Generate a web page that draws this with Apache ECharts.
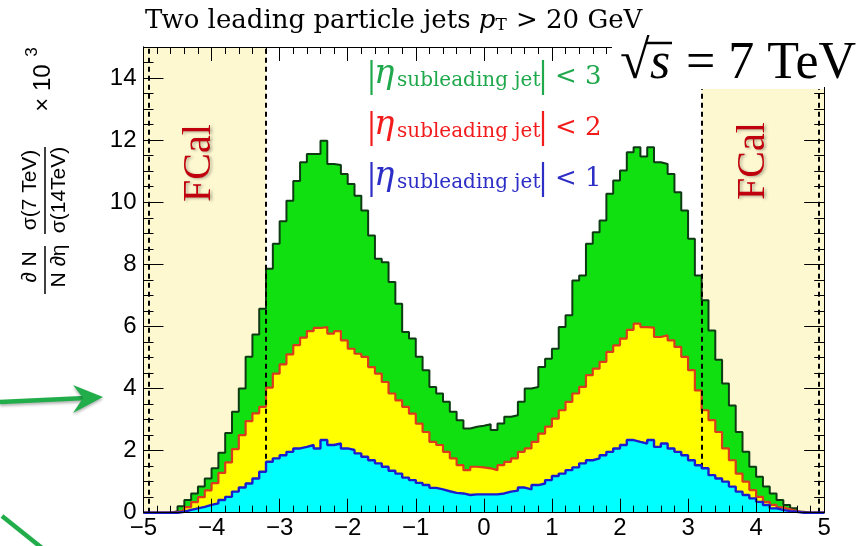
<!DOCTYPE html>
<html>
<head>
<meta charset="utf-8">
<script src="https://cdn.jsdelivr.net/npm/echarts@6/dist/echarts.min.js"></script>
<style>
  html, body { margin: 0; padding: 0; background: #ffffff; }
  #chart { width: 858px; height: 546px; }
</style>
</head>
<body>
<div id="chart"></div>
<script>
// Pseudorapidity bin edges (0.1 wide, -5 .. 5)
const binEdges = [
  -5.0, -4.9, -4.8, -4.7, -4.6, -4.5, -4.4, -4.3, -4.2, -4.1,
  -4.0, -3.9, -3.8, -3.7, -3.6, -3.5, -3.4, -3.3, -3.2, -3.1,
  -3.0, -2.9, -2.8, -2.7, -2.6, -2.5, -2.4, -2.3, -2.2, -2.1,
  -2.0, -1.9, -1.8, -1.7, -1.6, -1.5, -1.4, -1.3, -1.2, -1.1,
  -1.0, -0.9, -0.8, -0.7, -0.6, -0.5, -0.4, -0.3, -0.2, -0.1,
   0.0,  0.1,  0.2,  0.3,  0.4,  0.5,  0.6,  0.7,  0.8,  0.9,
   1.0,  1.1,  1.2,  1.3,  1.4,  1.5,  1.6,  1.7,  1.8,  1.9,
   2.0,  2.1,  2.2,  2.3,  2.4,  2.5,  2.6,  2.7,  2.8,  2.9,
   3.0,  3.1,  3.2,  3.3,  3.4,  3.5,  3.6,  3.7,  3.8,  3.9,
   4.0,  4.1,  4.2,  4.3,  4.4,  4.5,  4.6,  4.7,  4.8,  4.9,
   5.0
];

// Leading-jet eta distribution (x 10^3), one value per bin
const jetsEta3 = [
  0, 0, 0, 0, 0.05, 0.21, 0.41, 0.62, 0.84, 1.10,
  1.43, 1.93, 2.57, 3.25, 4.00, 5.02, 5.74, 6.57, 7.86, 8.66,
  9.39, 10.05, 10.68, 11.29, 11.55, 11.55, 11.98, 11.23, 11.20, 10.91,
  10.59, 10.21, 9.73, 8.93, 8.18, 8.07, 7.43, 6.73, 5.82, 5.61,
  5.02, 4.59, 4.05, 3.84, 3.57, 3.25, 2.98, 2.71, 2.77, 2.80,
  2.85, 2.66, 2.87, 3.09, 3.14, 3.57, 4.00, 4.05, 4.69, 4.96,
  5.28, 5.98, 6.36, 7.48, 7.64, 8.66, 9.03, 9.41, 10.27, 10.70,
  11.02, 11.61, 11.77, 11.47, 11.77, 11.29, 11.23, 10.91, 10.32, 9.73,
  8.82, 7.64, 6.84, 5.87, 4.93, 4.16, 3.45, 2.60, 1.96, 1.48,
  1.16, 0.84, 0.62, 0.41, 0.25, 0.14, 0.03, 0, 0, 0
];
const jetsEta2 = [
  0, 0, 0, 0, 0.02, 0.08, 0.18, 0.34, 0.50, 0.72,
  0.95, 1.28, 1.62, 2.05, 2.50, 2.95, 3.20, 3.41, 4.03, 4.48,
  4.78, 5.10, 5.40, 5.64, 5.85, 5.95, 5.98, 5.77, 5.85, 5.55,
  5.28, 5.12, 5.02, 4.69, 4.48, 4.21, 3.84, 3.62, 3.41, 3.19,
  2.87, 2.60, 2.28, 2.18, 1.96, 1.75, 1.53, 1.37, 1.48, 1.46,
  1.43, 1.37, 1.53, 1.64, 1.75, 1.96, 2.07, 2.28, 2.55, 2.77,
  3.03, 3.30, 3.57, 3.84, 4.05, 4.43, 4.64, 4.86, 5.18, 5.39,
  5.61, 5.89, 6.09, 5.98, 5.96, 5.66, 5.71, 5.55, 5.34, 5.02,
  4.59, 3.94, 3.30, 2.98, 2.60, 2.07, 1.69, 1.26, 1.00, 0.73,
  0.51, 0.35, 0.25, 0.17, 0.11, 0.05, 0.01, 0, 0, 0
];
const jetsEta1 = [
  0, 0, 0, 0, 0, 0.03, 0.09, 0.14, 0.19, 0.25,
  0.30, 0.41, 0.51, 0.68, 0.81, 0.94, 1.10, 1.32, 1.64, 1.75,
  1.85, 1.96, 2.07, 2.12, 2.18, 2.07, 2.34, 2.18, 2.23, 2.07,
  2.02, 1.91, 1.80, 1.69, 1.59, 1.48, 1.35, 1.26, 1.13, 1.05,
  0.96, 0.89, 0.80, 0.75, 0.69, 0.64, 0.62, 0.57, 0.59, 0.59,
  0.59, 0.59, 0.62, 0.68, 0.71, 0.81, 0.75, 0.89, 0.94, 1.05,
  1.18, 1.26, 1.37, 1.46, 1.59, 1.69, 1.75, 1.85, 1.96, 2.07,
  2.18, 2.34, 2.28, 2.23, 2.34, 2.12, 2.23, 2.07, 1.96, 1.85,
  1.69, 1.53, 1.43, 1.21, 1.10, 1.00, 0.84, 0.68, 0.57, 0.46,
  0.35, 0.25, 0.14, 0.09, 0.05, 0.03, 0, 0, 0, 0
];

// Forward calorimeter region: boundary at |eta| = 3.2, guide lines near the edges
const fcalInner = [-3.2, 3.2];
const fcalOuter = [-4.92, 4.92];
const fcalTopRight = 13.65;   // right band stops under the energy label
const yMax = 15;

// Histogram outline: left edge of each bin, closed at the last edge
function histPoints(values) {
  const pts = values.map((v, i) => [binEdges[i], v]);
  pts.push([binEdges[binEdges.length - 1], 0]);
  return pts;
}

const minus = v => (v < 0 ? '\u2212' + (-v) : String(v));
const serif = 'DejaVu Serif';
const sans = 'Liberation Sans';

const chart = echarts.init(document.getElementById('chart'), null, { renderer: 'canvas' });

const yBase = {
  type: 'value', min: 0, max: yMax, z: 10,
  splitLine: { show: false },
  axisLine: { show: true, onZero: false, lineStyle: { color: '#000', width: 1 } },
  axisLabel: { show: false }
};
const xBase = {
  type: 'value', min: -5, max: 5, interval: 1, z: 10,
  splitLine: { show: false },
  axisLine: { show: true, onZero: false, lineStyle: { color: '#000', width: 1 } },
  axisTick: { show: true, inside: true, length: 14, lineStyle: { color: '#000', width: 1 } },
  minorTick: { show: true, splitNumber: 5, length: 7, lineStyle: { color: '#000', width: 1 } }
};

function legendRow(color, base, label) {
  return [
    { type: 'line', z: 50, shape: { x1: 371.5, y1: base - 26, x2: 371.5, y2: base + 9 },
      style: { stroke: color, lineWidth: 2.2 } },
    { type: 'text', z: 50, x: 374, y: base - 12,
      style: { text: '\u03b7', fontFamily: serif, fontStyle: 'italic', fontSize: 34, fill: color,
               align: 'left', verticalAlign: 'middle', textAlign: 'left', textVerticalAlign: 'middle' } },
    { type: 'text', z: 50, x: 397, y: base - 5.5,
      style: { text: 'subleading jet', fontFamily: serif, fontSize: 20, fill: color,
               align: 'left', verticalAlign: 'middle', textAlign: 'left', textVerticalAlign: 'middle' } },
    { type: 'line', z: 50, shape: { x1: 543, y1: base - 26, x2: 543, y2: base + 9 },
      style: { stroke: color, lineWidth: 2.2 } },
    { type: 'text', z: 50, x: 555, y: base - 9,
      style: { text: '< ' + label, fontFamily: serif, fontSize: 26, fill: color,
               align: 'left', verticalAlign: 'middle', textAlign: 'left', textVerticalAlign: 'middle' } }
  ];
}

function rotText(text, x, y, size, extra) {
  return Object.assign({
    type: 'text', z: 50, x: x, y: y, rotation: Math.PI / 2,
    style: { text: text, fontFamily: sans, fontSize: size, fill: '#000',
             align: 'center', verticalAlign: 'middle', textAlign: 'center', textVerticalAlign: 'middle' }
  }, extra || {});
}

const green = '#1fa84c';

const option = {
  animation: false,
  backgroundColor: '#ffffff',
  grid: { left: 143.5, right: 33.8, top: 47, bottom: 33.3, containLabel: false, outerBoundsMode: 'none' },
  xAxis: [
    Object.assign({}, xBase, {
      position: 'bottom',
      axisLabel: { show: true, formatter: minus, fontFamily: sans, fontSize: 24, color: '#000', margin: 4 }
    }),
    Object.assign({}, xBase, { position: 'top', axisLabel: { show: false } })
  ],
  yAxis: [
    Object.assign({}, yBase, {
      position: 'left', interval: 2,
      axisTick: { show: true, inside: true, length: 20, lineStyle: { color: '#000' } },
      axisLabel: { show: true, fontFamily: sans, fontSize: 24, color: '#000', margin: 7,
                   formatter: v => (v > 14 ? '' : String(v)) }
    }),
    Object.assign({}, yBase, {
      position: 'left', interval: 0.5,
      axisTick: { show: true, inside: true, length: 10, lineStyle: { color: '#000' } }
    }),
    Object.assign({}, yBase, {
      position: 'right', interval: 2,
      axisTick: { show: true, inside: true, length: 20, lineStyle: { color: '#000' } }
    }),
    Object.assign({}, yBase, {
      position: 'right', interval: 0.5,
      axisTick: { show: true, inside: true, length: 10, lineStyle: { color: '#000' } }
    })
  ],
  series: [
    {
      name: 'FCal', type: 'line', data: [], z: 1, silent: true,
      markArea: {
        silent: true,
        itemStyle: { color: '#fdf8d0' },
        data: [
          [{ coord: [-5, 0] }, { coord: [fcalInner[0], yMax] }],
          [{ coord: [fcalInner[1], 0] }, { coord: [5, fcalTopRight] }]
        ]
      }
    },
    {
      name: '|eta| < 3', type: 'line', step: 'end', symbol: 'none', z: 3,
      data: histPoints(jetsEta3),
      lineStyle: { color: '#0e3a14', width: 2 },
      areaStyle: { color: '#10e010', opacity: 1 }
    },
    {
      name: '|eta| < 2', type: 'line', step: 'end', symbol: 'none', z: 4,
      data: histPoints(jetsEta2),
      lineStyle: { color: '#dc3a1c', width: 2.2 },
      areaStyle: { color: '#ffff00', opacity: 1 }
    },
    {
      name: '|eta| < 1', type: 'line', step: 'end', symbol: 'none', z: 5,
      data: histPoints(jetsEta1),
      lineStyle: { color: '#1b1bd0', width: 2.4 },
      areaStyle: { color: '#00ffff', opacity: 1 }
    },
    {
      name: 'FCal edges', type: 'line', data: [], z: 8, silent: true,
      markLine: {
        silent: true, symbol: 'none',
        label: { show: false },
        lineStyle: { color: '#000', width: 2, type: [5, 4] },
        data: [
          [{ coord: [fcalOuter[0], 0] }, { coord: [fcalOuter[0], yMax] }],
          [{ coord: [fcalInner[0], 0] }, { coord: [fcalInner[0], yMax] }],
          [{ coord: [fcalInner[1], 0] }, { coord: [fcalInner[1], fcalTopRight] }],
          [{ coord: [fcalOuter[1], 0] }, { coord: [fcalOuter[1], fcalTopRight] }]
        ]
      }
    }
  ],
  graphic: [
    // Title
    { type: 'text', z: 50, x: 145, y: 21,
      style: { text: 'Two leading particle jets {p|p}{t|T} > 20 GeV', fontFamily: serif, fontSize: 26, fill: '#000',
               align: 'left', verticalAlign: 'middle', textAlign: 'left', textVerticalAlign: 'middle',
               rich: {
                 p: { fontFamily: serif, fontSize: 26, fontStyle: 'italic', fill: '#000' },
                 t: { fontFamily: serif, fontSize: 17, fill: '#000', verticalAlign: 'bottom', padding: [0, 1, 0, 0] }
               } } },
    // Energy label on a white backing
    { type: 'rect', z: 40, shape: { x: 612, y: 33, width: 246, height: 54 }, style: { fill: '#ffffff' } },
    { type: 'text', z: 50, x: 620, y: 64,
      style: { text: '\u221a', fontFamily: 'Liberation Serif', fontSize: 54, fill: '#000',
               align: 'left', verticalAlign: 'middle', textAlign: 'left', textVerticalAlign: 'middle' } },
    { type: 'line', z: 50, shape: { x1: 646, y1: 43, x2: 672, y2: 43 }, style: { stroke: '#000', lineWidth: 2.5 } },
    { type: 'text', z: 50, x: 650, y: 64,
      style: { text: 's', fontFamily: 'Liberation Serif', fontStyle: 'italic', fontSize: 52, fill: '#000',
               align: 'left', verticalAlign: 'middle', textAlign: 'left', textVerticalAlign: 'middle' } },
    { type: 'text', z: 50, x: 686, y: 64,
      style: { text: '= 7 TeV', fontFamily: 'Liberation Serif', fontSize: 52, fill: '#000',
               align: 'left', verticalAlign: 'middle', textAlign: 'left', textVerticalAlign: 'middle' } },
    // Selection labels
    ...legendRow(green, 86, '3'),
    ...legendRow('#f21c1c', 137, '2'),
    ...legendRow('#2d2ec6', 188, '1'),
    // FCal region labels
    { type: 'text', z: 50, x: 199, y: 163, rotation: Math.PI / 2,
      style: { text: 'FCal', fontFamily: 'Liberation Serif', fontSize: 40, fill: '#c0000c',
               align: 'center', verticalAlign: 'middle', textAlign: 'center', textVerticalAlign: 'middle',
               textShadowColor: 'rgba(0,0,0,0.3)', textShadowBlur: 3, textShadowOffsetX: 2, textShadowOffsetY: 1 } },
    { type: 'text', z: 50, x: 753, y: 161, rotation: Math.PI / 2,
      style: { text: 'FCal', fontFamily: 'Liberation Serif', fontSize: 40, fill: '#c0000c',
               align: 'center', verticalAlign: 'middle', textAlign: 'center', textVerticalAlign: 'middle',
               textShadowColor: 'rgba(0,0,0,0.3)', textShadowBlur: 3, textShadowOffsetX: 2, textShadowOffsetY: 1 } },
    // Y-axis title: (dN / N d eta) * sigma(7 TeV)/sigma(14 TeV) x 10^3
    rotText('\u2202 N', 30, 267, 21),
    { type: 'line', z: 50, shape: { x1: 45, y1: 246, x2: 45, y2: 294 }, style: { stroke: '#000', lineWidth: 1.5 } },
    rotText('N \u2202\u03b7', 59, 266, 21),
    rotText('\u03c3(7 TeV)', 30, 190, 21),
    { type: 'line', z: 50, shape: { x1: 45, y1: 147, x2: 45, y2: 234 }, style: { stroke: '#000', lineWidth: 1.5 } },
    rotText('\u03c3(14TeV)', 59, 190, 21),
    rotText('\u00d7 10', 43, 88, 24),
    rotText('3', 32, 52, 17),
    // Pointer arrows
    { type: 'line', z: 50, shape: { x1: 0, y1: 402, x2: 86, y2: 398 },
      style: { stroke: '#22ad4b', lineWidth: 4.5, shadowColor: 'rgba(0,0,0,0.3)', shadowBlur: 3, shadowOffsetY: 2 } },
    { type: 'polygon', z: 50, shape: { points: [[103, 397], [73, 385], [83, 398], [73, 413]] },
      style: { fill: '#22ad4b', shadowColor: 'rgba(0,0,0,0.3)', shadowBlur: 3, shadowOffsetY: 2 } },
    { type: 'line', z: 50, shape: { x1: 2, y1: 516, x2: 42, y2: 548 },
      style: { stroke: '#22ad4b', lineWidth: 4.5 } }
  ]
};

chart.setOption(option);
</script>
</body>
</html>
